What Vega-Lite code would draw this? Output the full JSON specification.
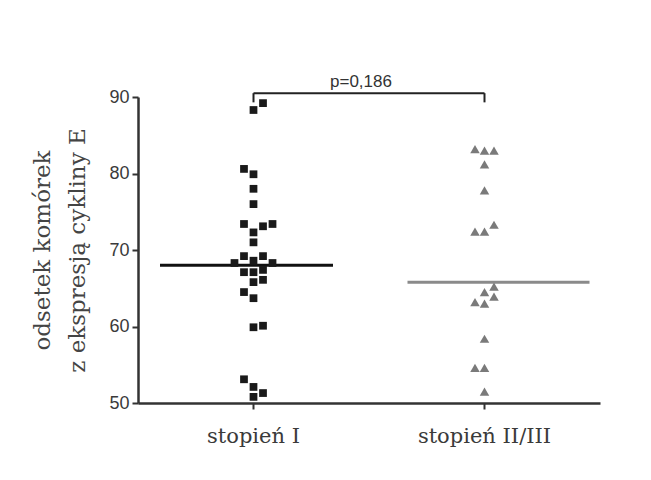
{
  "$schema": "https://vega.github.io/schema/vega-lite/v6.json",
  "width": 462,
  "height": 306,
  "autosize": "none",
  "padding": {"left": 138, "top": 97, "right": 51, "bottom": 77},
  "background": "white",
  "config": {
    "view": {"stroke": null},
    "axis": {"grid": false, "domainColor": "#333", "tickColor": "#333", "labelColor": "#3a3a3a", "titleColor": "#444"}
  },
  "datasets": {
    "points": [
      {"group": "stopień I", "value": 89.2, "slot": 1},
      {"group": "stopień I", "value": 88.3, "slot": 0},
      {"group": "stopień I", "value": 80.6, "slot": -1},
      {"group": "stopień I", "value": 79.9, "slot": 0},
      {"group": "stopień I", "value": 78.0, "slot": 0},
      {"group": "stopień I", "value": 76.0, "slot": 0},
      {"group": "stopień I", "value": 73.4, "slot": -1},
      {"group": "stopień I", "value": 73.1, "slot": 1},
      {"group": "stopień I", "value": 73.4, "slot": 2},
      {"group": "stopień I", "value": 72.3, "slot": 0},
      {"group": "stopień I", "value": 71.0, "slot": 0},
      {"group": "stopień I", "value": 69.2, "slot": -1},
      {"group": "stopień I", "value": 69.2, "slot": 1},
      {"group": "stopień I", "value": 68.6, "slot": 0},
      {"group": "stopień I", "value": 68.3, "slot": -2},
      {"group": "stopień I", "value": 68.3, "slot": 2},
      {"group": "stopień I", "value": 67.1, "slot": -1},
      {"group": "stopień I", "value": 67.1, "slot": 0},
      {"group": "stopień I", "value": 67.4, "slot": 1},
      {"group": "stopień I", "value": 65.8, "slot": 0},
      {"group": "stopień I", "value": 66.1, "slot": 1},
      {"group": "stopień I", "value": 64.5, "slot": -1},
      {"group": "stopień I", "value": 63.7, "slot": 0},
      {"group": "stopień I", "value": 59.9, "slot": 0},
      {"group": "stopień I", "value": 60.1, "slot": 1},
      {"group": "stopień I", "value": 53.1, "slot": -1},
      {"group": "stopień I", "value": 52.1, "slot": 0},
      {"group": "stopień I", "value": 51.3, "slot": 1},
      {"group": "stopień I", "value": 50.8, "slot": 0},
      {"group": "stopień II/III", "value": 83.2, "slot": -1},
      {"group": "stopień II/III", "value": 83.0, "slot": 0},
      {"group": "stopień II/III", "value": 83.0, "slot": 1},
      {"group": "stopień II/III", "value": 81.2, "slot": 0},
      {"group": "stopień II/III", "value": 77.8, "slot": 0},
      {"group": "stopień II/III", "value": 72.4, "slot": -1},
      {"group": "stopień II/III", "value": 72.4, "slot": 0},
      {"group": "stopień II/III", "value": 73.3, "slot": 1},
      {"group": "stopień II/III", "value": 65.2, "slot": 1},
      {"group": "stopień II/III", "value": 64.5, "slot": 0},
      {"group": "stopień II/III", "value": 63.9, "slot": 1},
      {"group": "stopień II/III", "value": 63.2, "slot": -1},
      {"group": "stopień II/III", "value": 63.0, "slot": 0},
      {"group": "stopień II/III", "value": 58.4, "slot": 0},
      {"group": "stopień II/III", "value": 54.6, "slot": -1},
      {"group": "stopień II/III", "value": 54.6, "slot": 0},
      {"group": "stopień II/III", "value": 51.5, "slot": 0}
    ],
    "medians": [
      {"group": "stopień I", "median": 68.0},
      {"group": "stopień II/III", "median": 65.8}
    ],
    "bracket": [
      {"group": "stopień I", "low": 89.3, "high": 90.5},
      {"group": "stopień II/III", "low": 89.3, "high": 90.5}
    ],
    "pval": [
      {"from": "stopień I", "to": "stopień II/III", "y": 90.5, "label": "p=0,186", "ly": 91.3}
    ]
  },
  "layer": [
    {
      "data": {"name": "medians"},
      "transform": [{"filter": "datum.group === 'stopień I'"}],
      "mark": {"type": "tick", "size": 173, "thickness": 3, "color": "#111", "opacity": 1, "xOffset": -7, "clip": false},
      "encoding": {
        "x": {"field": "group", "type": "nominal", "scale": {"domain": ["stopień I", "stopień II/III"], "paddingInner": 0, "paddingOuter": 0},
              "axis": {"title": null, "labelAngle": 0, "labelFont": "DejaVu Serif", "labelFontSize": 21, "labelPadding": 16, "tickSize": 6, "tickWidth": 2, "domainWidth": 2.5}},
        "y": {"field": "median", "type": "quantitative", "scale": {"domain": [50, 90], "nice": false, "zero": false},
              "axis": {"title": ["odsetek komórek", "z ekspresją cykliny E"], "titleFont": "DejaVu Serif", "titleFontSize": 23, "titleFontWeight": "normal", "titleLineHeight": 35, "titlePadding": 19,
                       "values": [50, 60, 70, 80, 90], "labelFont": "Liberation Sans", "labelFontSize": 18, "labelPadding": 3, "tickSize": 6, "tickWidth": 2, "domainWidth": 2.5}}
      }
    },
    {
      "data": {"name": "medians"},
      "transform": [{"filter": "datum.group === 'stopień II/III'"}],
      "mark": {"type": "tick", "size": 182, "thickness": 3, "color": "#8a8a8a", "opacity": 1, "xOffset": 14, "clip": false},
      "encoding": {
        "x": {"field": "group", "type": "nominal"},
        "y": {"field": "median", "type": "quantitative"}
      }
    },
    {
      "data": {"name": "points"},
      "mark": {"type": "point", "filled": true, "opacity": 1, "clip": false},
      "encoding": {
        "x": {"field": "group", "type": "nominal"},
        "xOffset": {"field": "slot", "type": "quantitative", "scale": {"domain": [-12.15, 12.15]}},
        "y": {"field": "value", "type": "quantitative"},
        "shape": {"field": "group", "type": "nominal", "scale": {"domain": ["stopień I", "stopień II/III"], "range": ["square", "triangle-up"]}, "legend": null},
        "color": {"field": "group", "type": "nominal", "scale": {"domain": ["stopień I", "stopień II/III"], "range": ["#1a1a1a", "#7a7a7a"]}, "legend": null},
        "size": {"field": "group", "type": "nominal", "scale": {"domain": ["stopień I", "stopień II/III"], "range": [60, 90]}, "legend": null}
      }
    },
    {
      "data": {"name": "bracket"},
      "mark": {"type": "rule", "strokeWidth": 2, "color": "#222", "clip": false},
      "encoding": {
        "x": {"field": "group", "type": "nominal"},
        "y": {"field": "low", "type": "quantitative"},
        "y2": {"field": "high"}
      }
    },
    {
      "data": {"name": "pval"},
      "mark": {"type": "rule", "strokeWidth": 2, "color": "#222", "clip": false},
      "encoding": {
        "x": {"field": "from", "type": "nominal"},
        "x2": {"field": "to"},
        "y": {"field": "y", "type": "quantitative"}
      }
    },
    {
      "data": {"name": "pval"},
      "mark": {"type": "text", "font": "Liberation Sans", "fontSize": 17, "color": "#333", "baseline": "alphabetic", "dx": -8, "clip": false},
      "encoding": {
        "x": {"field": "from", "type": "nominal", "bandPosition": 1},
        "y": {"field": "ly", "type": "quantitative"},
        "text": {"field": "label"}
      }
    }
  ]
}
